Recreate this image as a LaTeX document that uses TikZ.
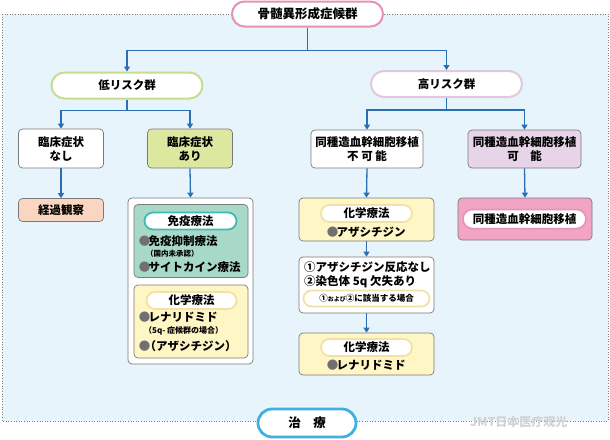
\documentclass[tikz,border=0pt]{standalone}
\usepackage{fontspec}
\setmainfont{Noto Sans CJK JP}
\usetikzlibrary{arrows.meta}
\definecolor{bgblue}{HTML}{E8F4FC}
\definecolor{titlepink}{HTML}{E890B8}
\definecolor{lowgreen}{HTML}{C8DC90}
\definecolor{highlav}{HTML}{E2C8DC}
\definecolor{arifill}{HTML}{DCE8A0}
\definecolor{keikafill}{HTML}{FAD6C2}
\definecolor{kanoufill}{HTML}{E8D4E8}
\definecolor{tealfill}{HTML}{A8D8C8}
\definecolor{tealline}{HTML}{3CBCB4}
\definecolor{yelfill}{HTML}{FFF6C6}
\definecolor{yelline}{HTML}{F2E2A6}
\definecolor{transfill}{HTML}{F2A4C4}
\definecolor{boxline}{HTML}{7A7A7A}
\definecolor{arrowblue}{HTML}{2A6EB4}
\definecolor{chiryoblue}{HTML}{40B0E0}
\definecolor{bulletgray}{HTML}{707070}
\newcommand{\blt}{\kern-0.12em{\color{bulletgray}●}\kern-0.15em}
\begin{document}
\begin{tikzpicture}[x=1pt,y=-1pt,
  txt/.style={font=\bfseries\fontsize{11.5}{14}\selectfont, text=black},
  small/.style={font=\bfseries\fontsize{7.5}{9}\selectfont, text=black},
  box/.style={draw=boxline, line width=0.7pt, rounded corners=4pt, align=center, inner sep=0pt, txt},
  pill/.style={draw, fill=white, line width=2pt, align=center, inner sep=0pt, txt},
  arr/.style={draw=arrowblue, line width=1.3pt, -{Triangle[length=5pt,width=6pt]}}
]
\useasboundingbox (0,0) rectangle (610,439);
% background
\fill[bgblue] (2,14) rectangle (608,421);
\draw[gray, dotted, line width=0.6pt] (2,14) rectangle (608,421);

% top
\node[pill, draw=titlepink, minimum width=151pt, minimum height=25pt, rounded corners=12.5pt, font=\bfseries\fontsize{12.5}{14}\selectfont] (title) at (307.5,14) {骨髄異形成症候群};
\node[pill, draw=lowgreen, minimum width=151pt, minimum height=26pt, rounded corners=13pt] (low) at (127,85.5) {低リスク群};
\node[pill, draw=highlav, minimum width=151pt, minimum height=26pt, rounded corners=13pt] (high) at (446.5,84) {高リスク群};

% level 2
\node[box, fill=white, minimum width=85pt, minimum height=39pt] (nasi) at (61,148.5) {臨床症状\\なし};
\node[box, fill=arifill, minimum width=85pt, minimum height=39pt] (ari) at (190,148.5) {臨床症状\\あり};
\node[box, fill=white, minimum width=112pt, minimum height=38pt] (fuka) at (367,149) {同種造血幹細胞移植\\不 可 能};
\node[box, fill=kanoufill, minimum width=113pt, minimum height=38pt] (kanou) at (524.5,149) {同種造血幹細胞移植\\可　能};

% left column
\node[box, fill=keikafill, minimum width=85pt, minimum height=23pt] (keika) at (61,210) {経過観察};

\node[box, fill=white, minimum width=125pt, minimum height=166pt] (cont) at (190.5,281) {};
\node[box, fill=tealfill, minimum width=114pt, minimum height=73pt] (imm) at (191,241) {};
\node[pill, draw=tealline, line width=1.8pt, minimum width=92pt, minimum height=17pt, rounded corners=8.5pt] (immp) at (190.5,221) {免疫療法};
\node[txt, anchor=west, inner sep=0pt] (imm1) at (140,241) {\blt 免疫抑制療法};
\node[small, anchor=west, inner sep=0pt] (imm2) at (146,253.5) {（国内未承認）};
\node[txt, anchor=west, inner sep=0pt] (imm3) at (140,267) {\blt サイトカイン療法};

\node[box, fill=yelfill, minimum width=114pt, minimum height=73pt] (chl) at (191,321.5) {};
\node[pill, draw=yelline, line width=1.8pt, minimum width=90pt, minimum height=17pt, rounded corners=8.5pt] (chlp) at (191.5,300.5) {化学療法};
\node[txt, anchor=west, inner sep=0pt] (chl1) at (140,317.5) {\blt レナリドミド};
\node[small, font=\bfseries\fontsize{8}{9}\selectfont, anchor=west, inner sep=0pt] (chl2) at (144,331) {（5q- 症候群の場合）};
\node[txt, anchor=west, inner sep=0pt] (chl3) at (140,346) {\blt\kern-0.35em（アザシチジン）};

% right-middle column
\node[box, fill=yelfill, minimum width=135pt, minimum height=43pt] (ch1) at (366.5,219.5) {};
\node[pill, draw=yelline, line width=1.8pt, minimum width=91pt, minimum height=17pt, rounded corners=8.5pt] (ch1p) at (366.5,213.5) {化学療法};
\node[txt, inner sep=0pt] (ch1t) at (367,232) {\blt アザシチジン};

\node[box, fill=white, minimum width=135pt, minimum height=56pt] (cond) at (366.5,285) {};
\node[txt, anchor=west, inner sep=0pt] (cond1) at (304,267.5) {①アザシチジン反応なし};
\node[txt, anchor=west, inner sep=0pt] (cond2) at (304,281.5) {②染色体 5q 欠失あり};
\node[pill, draw=yelline, line width=1.8pt, minimum width=126pt, minimum height=16pt, rounded corners=8pt, font=\bfseries\fontsize{8.5}{10}\selectfont] (condp) at (366.5,298.5) {①{\fontsize{6}{7}\selectfont および}②に該当する場合};

\node[box, fill=yelfill, minimum width=135pt, minimum height=42pt] (ch2) at (366.5,354) {};
\node[pill, draw=yelline, line width=1.8pt, minimum width=91pt, minimum height=17pt, rounded corners=8.5pt] (ch2p) at (366.5,347.5) {化学療法};
\node[txt, inner sep=0pt] (ch2t) at (367,365.5) {\blt レナリドミド};

% right column
\node[box, fill=transfill, minimum width=134pt, minimum height=42pt] (trans) at (525,219) {};
\node[pill, draw=titlepink, line width=1.5pt, minimum width=123pt, minimum height=19pt, rounded corners=9.5pt] (transp) at (524.5,219) {同種造血幹細胞移植};

% bottom
\node[pill, draw=chiryoblue, line width=2.8pt, minimum width=98pt, minimum height=28pt, rounded corners=14pt, font=\bfseries\fontsize{12.5}{14}\selectfont] (chiryo) at (307,423) {治　療};
\node[font=\bfseries\fontsize{12}{14}\selectfont, text=gray!35, anchor=west, inner sep=0pt] (wm) at (470,422) {JMT日本医疗观光};

% connectors
\draw[arr] (title.south) -- ++(0,23) -| (low.north);
\draw[arr] (title.south) -- ++(0,23) -| (high.north);
\draw[arr] (low.south) -- ++(0,11) -| (nasi.north);
\draw[arr] (low.south) -- ++(0,11) -| (ari.north);
\draw[arr] (high.south) -- ++(0,12) -| (fuka.north);
\draw[arr] (high.south) -- ++(0,12) -| (kanou.north);
\draw[arr] (nasi.south) -- (keika.north);
\draw[arr] (ari.south) -- (cont.north);
\draw[arr] (fuka.south) -- (ch1.north);
\draw[arr] (ch1.south) -- (cond.north);
\draw[arr] (cond.south) -- (ch2.north);
\draw[arr] (kanou.south) -- (trans.north);
\end{tikzpicture}
\end{document}
